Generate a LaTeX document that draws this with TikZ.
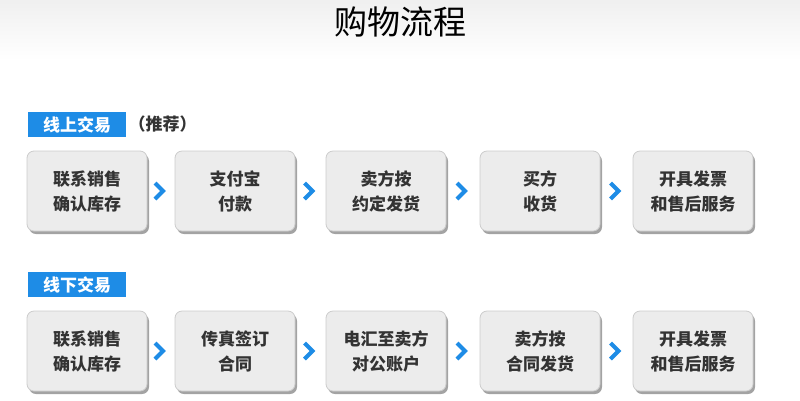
\documentclass[tikz,border=0pt]{standalone}
\usepackage{fontspec}
\setmainfont{Noto Sans CJK SC}
\usetikzlibrary{shadows,calc}
\definecolor{tabblue}{HTML}{1E8CE6}
\begin{document}
\begin{tikzpicture}[x=1pt,y=-1pt,
  stepbox/.style={draw=gray!40,line width=0.8pt,rounded corners=7pt,fill=gray!15,minimum width=120pt,minimum height=80pt,align=center,font=\fontsize{17}{25}\selectfont\bfseries,text=black!80,drop shadow={shadow xshift=2pt,shadow yshift=-3pt,opacity=0.6,fill=black!60}},
  tab/.style={fill=tabblue,text=white,font=\fontsize{17}{19}\selectfont\bfseries,minimum height=25pt,minimum width=98pt},
  chev/.style={draw=tabblue,line width=4pt,line cap=butt,line join=miter}]
\useasboundingbox (0,0) rectangle (800,400);
\fill[top color=gray!12,bottom color=white] (0,0) rectangle (800,60);
\node (title) at (400,22) {\fontsize{33}{36}\selectfont 购物流程};
\node[tab,anchor=west] (t1) at (28,124.5) {线上交易};
\node[anchor=west,font=\fontsize{17}{19}\selectfont\bfseries,text=black!80,inner xsep=0pt] (t1b) at ([xshift=2pt]t1.east) {（推荐）};
\foreach \i/\x/\t in {1/87/{联系销售\\确认库存},2/235/{支付宝\\付款},3/386/{卖方按\\约定发货},4/540/{买方\\收货},5/693/{开具发票\\和售后服务}}
  \node[stepbox] (a\i) at (\x,191) {\t};
\foreach \i/\x/\t in {1/87/{联系销售\\确认库存},2/235/{传真签订\\合同},3/386/{电汇至卖方\\对公账户},4/540/{卖方按\\合同发货},5/693/{开具发票\\和售后服务}}
  \node[stepbox] (b\i) at (\x,351) {\t};
\node[tab,anchor=west] (t2) at (28,284.5) {线下交易};
\foreach \r in {a,b}
 \foreach \i/\j in {1/2,2/3,3/4,4/5}
  \draw[chev] ([xshift=-6pt,yshift=-8pt]$(\r\i.east)!0.5!(\r\j.west)$) -- ([xshift=2pt]$(\r\i.east)!0.5!(\r\j.west)$) -- ([xshift=-6pt,yshift=8pt]$(\r\i.east)!0.5!(\r\j.west)$);
\end{tikzpicture}
\end{document}
